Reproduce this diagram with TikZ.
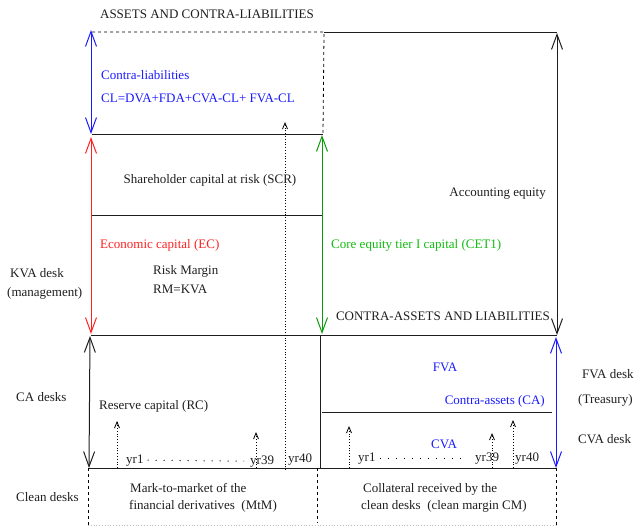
\documentclass[tikz,border=0pt]{standalone}
\usepackage{fontspec}
\setmainfont{Liberation Serif}
\usetikzlibrary{arrows.meta}
\definecolor{ink}{HTML}{1E1E1E}
\definecolor{clblue}{HTML}{1A1AFF}
\definecolor{ecred}{HTML}{FF2020}
\definecolor{cetgreen}{HTML}{11BB11}
\definecolor{cetarrow}{HTML}{0A9A0A}

\tikzset{
  lbl/.style={font=\fontsize{13}{15}\selectfont, inner sep=0pt,
              text height=11.5pt, text depth=0.5pt, text=ink},
  sheetline/.style={line width=0.9pt, draw=ink},
  capspan/.style={line width=1pt,
                  {Straight Barb[length=15pt,width=11pt]}-{Straight Barb[length=15pt,width=11pt]}},
  yrarrow/.style={line width=0.8pt, dotted, -{Straight Barb[length=6pt,width=5pt]}},
  yrdots/.style={line width=1pt, dash pattern=on 1pt off 7pt},
  offsheet/.style={line width=0.8pt, dashed, dash pattern=on 3pt off 3pt}
}

\begin{document}
\begin{tikzpicture}[x=1pt,y=-1pt]
\useasboundingbox (0,0) rectangle (636,526);

\coordinate (tl) at (92,32);  \coordinate (tm) at (324,32);  \coordinate (tr) at (557,32);
\coordinate (cl) at (92,134); \coordinate (cm) at (323,134);
\coordinate (sl) at (92,215); \coordinate (sm) at (322,215);
\coordinate (el) at (91,335); \coordinate (er) at (557,335);
\coordinate (al) at (322,412); \coordinate (ar) at (552,412);
\coordinate (bl) at (88,468); \coordinate (br) at (556,468);
\coordinate (dl) at (88,525);  \coordinate (dr) at (556,525);

% balance sheet frame
\draw[offsheet] (tl) -- (tm) -- (cm);
\draw[sheetline] (tm) -- (tr);
\draw[sheetline] (cl) -- (cm);
\draw[sheetline] (sl) -- (sm);
\draw[sheetline] (el) -- (er);
\draw[sheetline] (al) -- (ar);
\draw[sheetline] (bl) -- (br);
\draw[offsheet] (bl) -- (dl);
\draw[offsheet] (br) -- (dr);
\draw[offsheet] (317,468) -- (317,523);
\draw[gray!50, dotted, line width=0.8pt] (dl) -- (dr);
\draw[sheetline] (320,335) -- (320,468);

% capital spans
\draw[capspan, draw=clblue] (91,30) -- (91,134);
\draw[capspan, draw=ecred] (91,137) -- (91,334);
\draw[capspan, draw=cetarrow] (322,135) -- (322,334);
\draw[capspan, draw=ink] (557,33) -- (557,335);
\draw[capspan, draw=ink] (90,336) -- (89,468);
\draw[capspan, draw=clblue] (556,337) -- (556,468);

% yearly arrows
\draw[yrarrow] (117,468) -- (117,421);
\draw[yrarrow] (256,468) -- (256,432);
\draw[yrarrow] (285,470) -- (285,122);
\draw[yrarrow] (349,468) -- (349,426);
\draw[yrarrow] (492,468) -- (492,433);
\draw[yrarrow] (513,468) -- (513,420);

% labels
\node[lbl] (title) at (207,13) {ASSETS AND CONTRA-LIABILITIES};
\node[lbl, text=clblue, anchor=west] (clname) at (101,74) {Contra-liabilities};
\node[lbl, text=clblue, anchor=west] (clsum) at (101,97) {CL=DVA+FDA+CVA-CL+ FVA-CL};
\node[lbl] (scr) at (210,178) {Shareholder capital at risk (SCR)};
\node[lbl, text=ecred, anchor=west] (ec) at (100,243) {Economic capital (EC)};
\node[lbl, anchor=west] (rmname) at (153,269) {Risk Margin};
\node[lbl, anchor=west] (rmeq) at (153,288) {RM=KVA};
\node[lbl, anchor=west] (kvadesk) at (10,272) {KVA desk};
\node[lbl, anchor=west] (kvamgmt) at (7,291) {(management)};
\node[lbl, text=cetgreen, anchor=west] (cet) at (331,243) {Core equity tier I capital (CET1)};
\node[lbl, anchor=east] (acceq) at (546,191) {Accounting equity};
\node[lbl, anchor=east] (cal) at (550,315) {CONTRA-ASSETS AND LIABILITIES};
\node[lbl, anchor=west] (cadesks) at (16,396) {CA desks};
\node[lbl, anchor=west] (rc) at (99,404) {Reserve capital (RC)};
\node[lbl, anchor=west] (lyr1) at (126,458) {yr1};
\node[lbl, anchor=west] (lyr39) at (250,459) {yr39};
\node[lbl, anchor=west] (lyr40) at (288,457) {yr40};
\node[lbl, text=clblue] (fva) at (445,366) {FVA};
\node[lbl, text=clblue, anchor=east] (ca) at (545,399) {Contra-assets (CA)};
\node[lbl, text=clblue] (cva) at (444,443) {CVA};
\node[lbl, anchor=west] (ryr1) at (358,456) {yr1};
\node[lbl, anchor=west] (ryr39) at (475,456) {yr39};
\node[lbl, anchor=west] (ryr40) at (515,456) {yr40};
\node[lbl, anchor=west] (fvadesk) at (582,373) {FVA desk};
\node[lbl, anchor=west] (treasury) at (578,398) {(Treasury)};
\node[lbl, anchor=west] (cvadesk) at (578,438) {CVA desk};
\node[lbl, anchor=west] (clean) at (16,496) {Clean desks};
\node[lbl, anchor=west] (mtma) at (130,487) {Mark-to-market of the};
\node[lbl, anchor=west] (mtmb) at (129,504) {financial derivatives\enspace(MtM)};
\node[lbl, anchor=west] (cma) at (363,487) {Collateral received by the};
\node[lbl, anchor=west] (cmb) at (361,504) {clean desks\enspace(clean margin CM)};

\draw[yrdots] ([xshift=4pt,yshift=4pt]lyr1.south east) -- ([xshift=-6pt,yshift=4pt]lyr39.south west);
\draw[yrdots] ([xshift=4pt,yshift=4pt]ryr1.south east) -- ([xshift=-8pt,yshift=4pt]ryr39.south west);
\end{tikzpicture}
\end{document}
